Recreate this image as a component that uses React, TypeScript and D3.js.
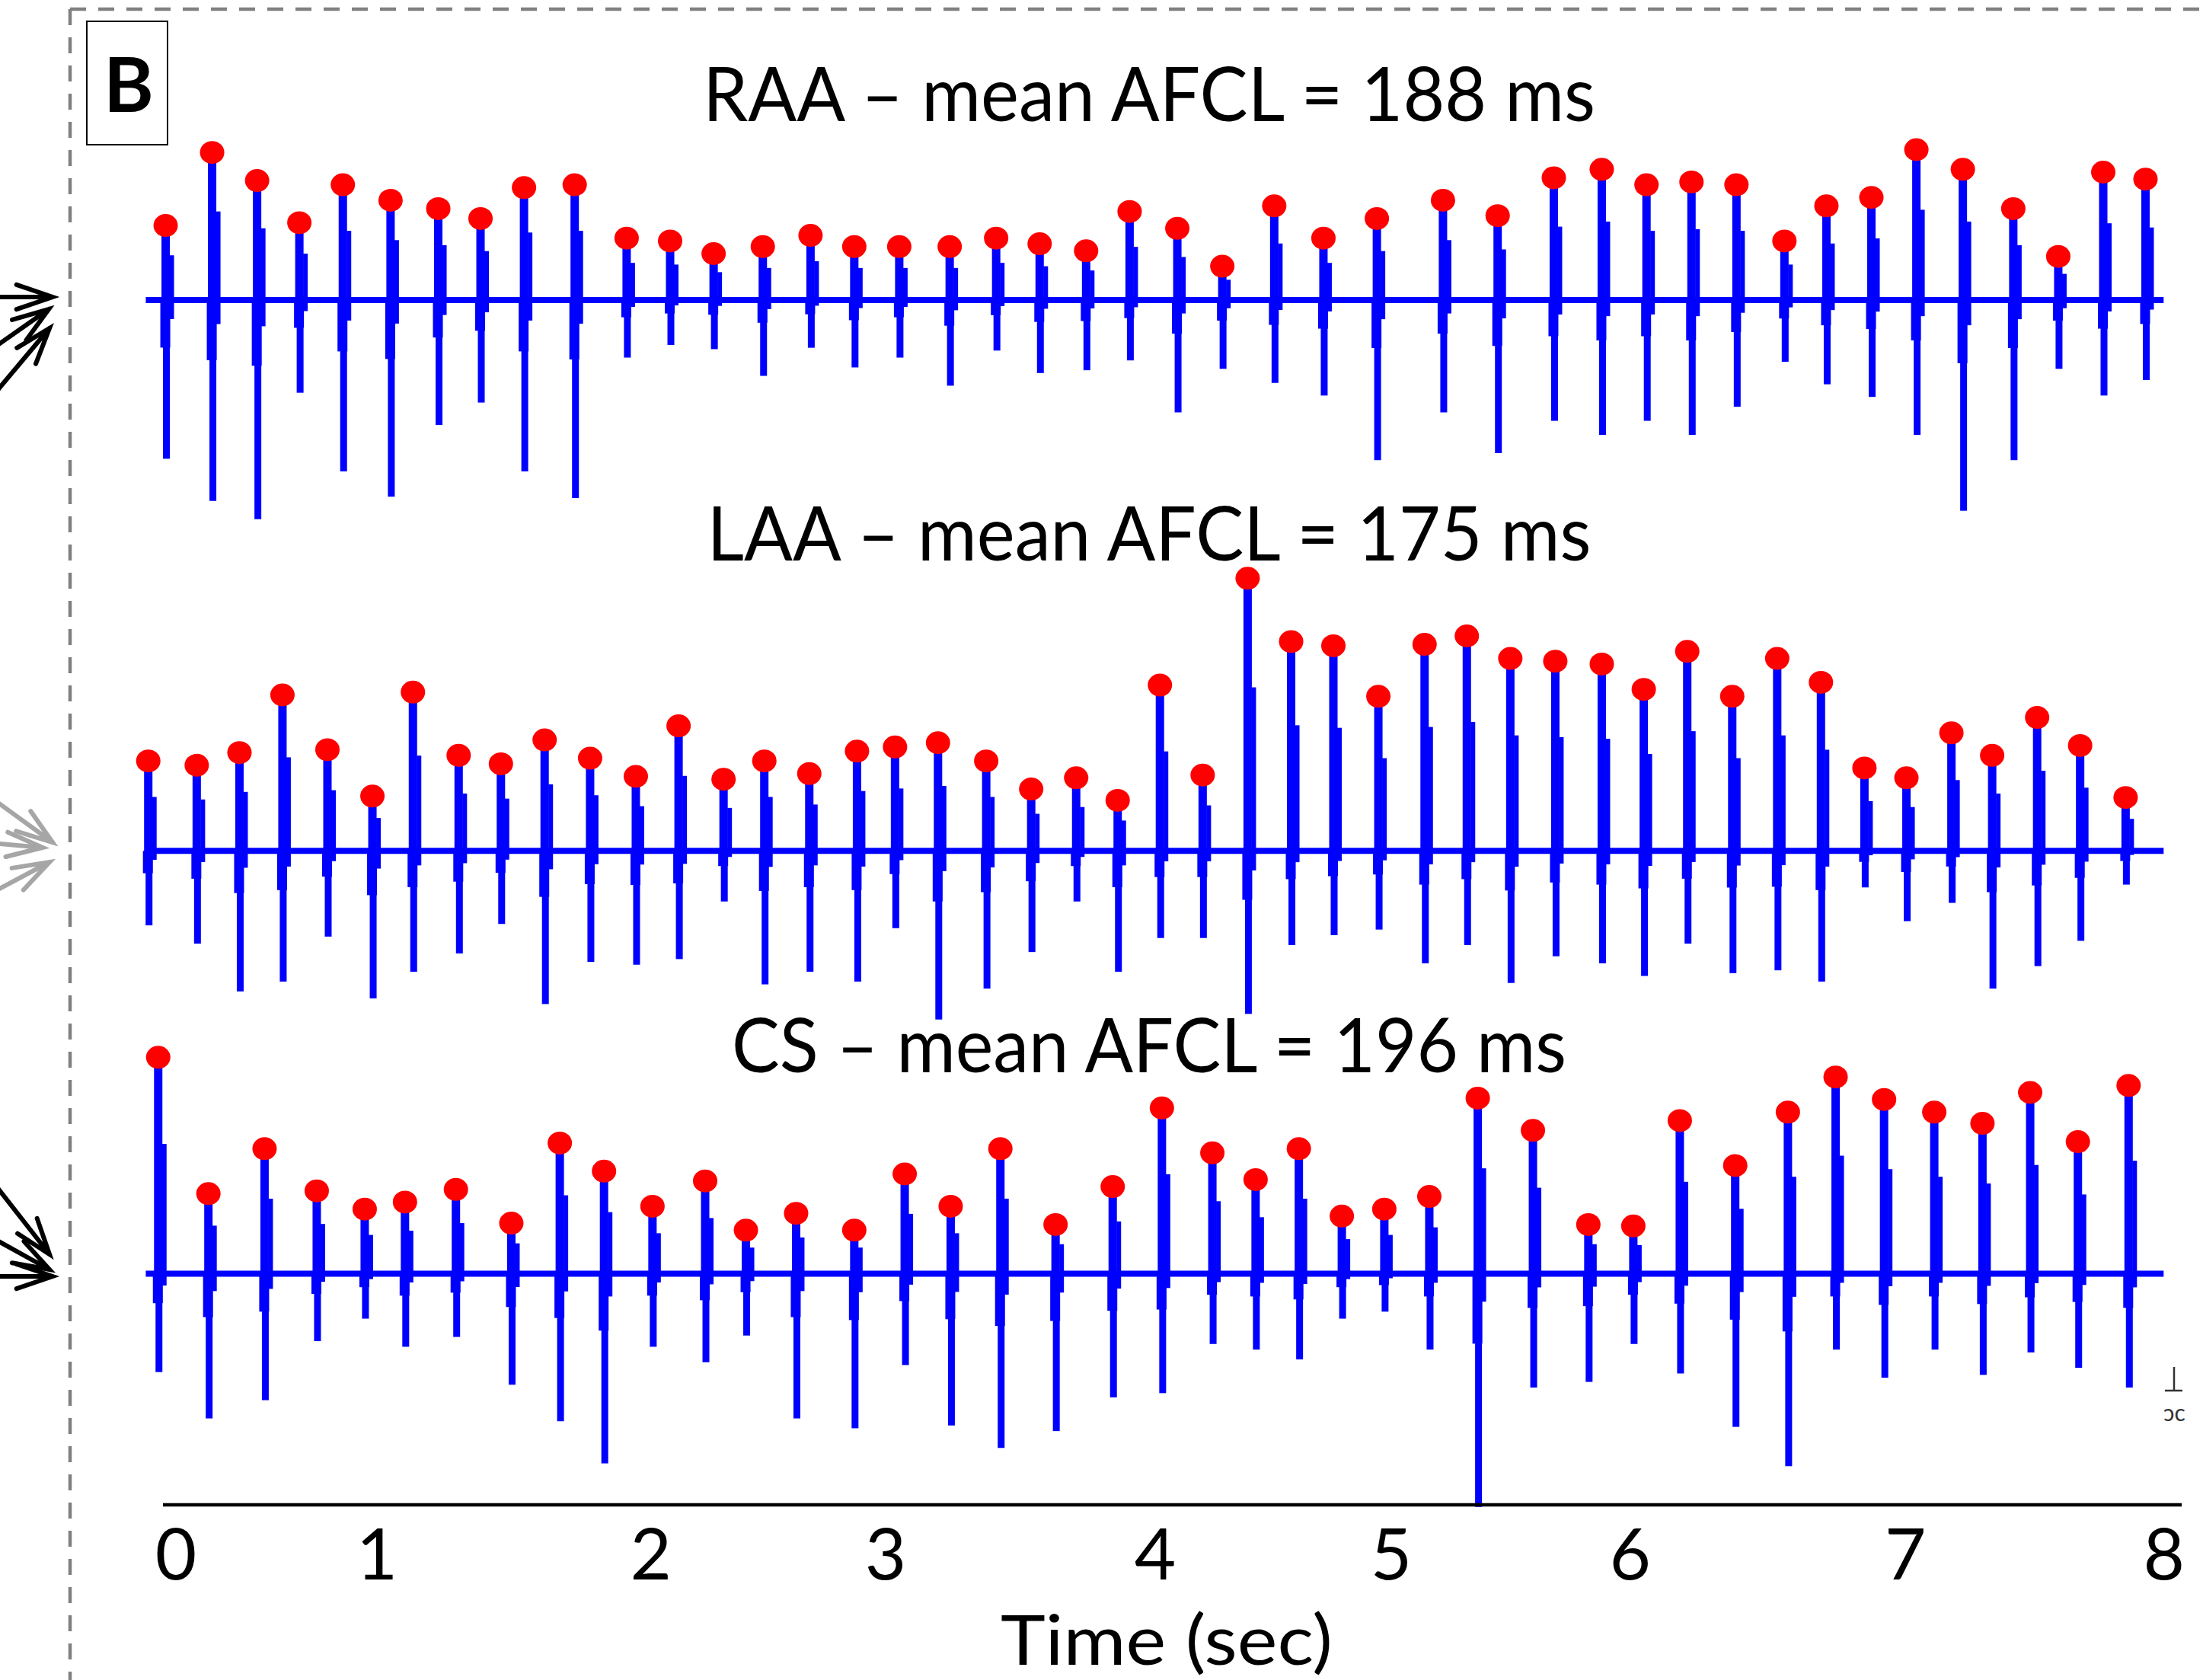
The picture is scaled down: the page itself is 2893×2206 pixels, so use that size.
import * as d3 from "d3";
import React, { useEffect, useRef } from "react";

// beat times (s), peak and trough amplitudes (mV) read from the recordings
const raaTimes = [-0.040, 0.147, 0.328, 0.498, 0.673, 0.865, 1.057, 1.227, 1.402, 1.606, 1.815, 1.990, 2.165, 2.363, 2.555, 2.731, 2.912, 3.115, 3.302, 3.477, 3.664, 3.839, 4.031, 4.212, 4.421, 4.619, 4.834, 5.100, 5.320, 5.546, 5.739, 5.919, 6.100, 6.281, 6.474, 6.643, 6.824, 7.005, 7.192, 7.395, 7.576, 7.757, 7.927];
const raaPeaks = [0.53, 1.05, 0.85, 0.55, 0.82, 0.71, 0.65, 0.58, 0.80, 0.82, 0.44, 0.42, 0.33, 0.38, 0.46, 0.38, 0.38, 0.38, 0.44, 0.40, 0.35, 0.63, 0.51, 0.24, 0.67, 0.44, 0.58, 0.71, 0.60, 0.87, 0.93, 0.82, 0.84, 0.82, 0.42, 0.67, 0.73, 1.07, 0.93, 0.65, 0.31, 0.91, 0.86];
const raaTroughs = [-1.13, -1.43, -1.56, -0.66, -1.22, -1.40, -0.89, -0.73, -1.22, -1.41, -0.41, -0.32, -0.35, -0.54, -0.34, -0.48, -0.41, -0.61, -0.36, -0.52, -0.50, -0.43, -0.80, -0.49, -0.59, -0.68, -1.14, -0.80, -1.09, -0.86, -0.96, -0.86, -0.96, -0.76, -0.44, -0.60, -0.69, -0.96, -1.50, -1.14, -0.49, -0.68, -0.57];

const laaTimes = [-0.110, 0.085, 0.257, 0.430, 0.611, 0.792, 0.955, 1.139, 1.309, 1.485, 1.668, 1.852, 2.024, 2.205, 2.369, 2.550, 2.742, 2.895, 3.068, 3.262, 3.443, 3.624, 3.791, 3.961, 4.133, 4.314, 4.489, 4.659, 4.840, 5.026, 5.196, 5.371, 5.552, 5.739, 5.908, 6.083, 6.264, 6.445, 6.621, 6.796, 6.965, 7.146, 7.310, 7.491, 7.664, 7.847];
const laaPeaks = [0.64, 0.61, 0.70, 1.11, 0.72, 0.39, 1.13, 0.68, 0.62, 0.79, 0.66, 0.53, 0.89, 0.51, 0.64, 0.55, 0.71, 0.74, 0.77, 0.64, 0.44, 0.52, 0.36, 1.18, 0.54, 1.94, 1.49, 1.46, 1.10, 1.47, 1.53, 1.37, 1.35, 1.33, 1.15, 1.42, 1.10, 1.37, 1.20, 0.59, 0.52, 0.84, 0.68, 0.95, 0.75, 0.38];
const laaTroughs = [-0.53, -0.66, -1.00, -0.93, -0.61, -1.05, -0.86, -0.73, -0.52, -1.09, -0.79, -0.81, -0.77, -0.36, -0.95, -0.86, -0.93, -0.55, -1.20, -0.98, -0.72, -0.36, -0.86, -0.62, -0.62, -1.16, -0.67, -0.60, -0.56, -0.80, -0.67, -0.94, -0.75, -0.80, -0.89, -0.66, -0.87, -0.85, -0.93, -0.26, -0.50, -0.37, -0.98, -0.82, -0.64, -0.24];

const csTimes = [-0.070, 0.132, 0.358, 0.568, 0.761, 0.923, 1.128, 1.351, 1.546, 1.724, 1.919, 2.131, 2.295, 2.497, 2.731, 2.934, 3.119, 3.319, 3.541, 3.771, 3.969, 4.172, 4.346, 4.520, 4.693, 4.864, 5.045, 5.240, 5.462, 5.685, 5.866, 6.053, 6.276, 6.488, 6.680, 6.875, 7.077, 7.271, 7.463, 7.655, 7.859];
const csPeaks = [1.54, 0.57, 0.89, 0.59, 0.46, 0.51, 0.60, 0.36, 0.93, 0.73, 0.48, 0.66, 0.31, 0.43, 0.31, 0.71, 0.48, 0.89, 0.35, 0.62, 1.18, 0.86, 0.67, 0.89, 0.41, 0.46, 0.55, 1.25, 1.02, 0.35, 0.34, 1.09, 0.77, 1.15, 1.40, 1.24, 1.15, 1.07, 1.29, 0.94, 1.34];
const csTroughs = [-0.70, -1.03, -0.90, -0.48, -0.32, -0.52, -0.45, -0.79, -1.05, -1.35, -0.52, -0.63, -0.44, -1.03, -1.10, -0.65, -1.08, -1.24, -1.12, -0.88, -0.85, -0.50, -0.54, -0.61, -0.32, -0.27, -0.54, -1.66, -0.81, -0.77, -0.50, -0.71, -1.09, -1.37, -0.54, -0.74, -0.54, -0.72, -0.56, -0.67, -0.81];

const titles = ["RAA \u2013 mean AFCL = 188 ms", "LAA \u2013 mean AFCL = 175 ms", "CS \u2013 mean AFCL = 196 ms"];
const tickLabels = ["0", "1", "2", "3", "4", "5", "6", "7", "8"];

const W = 2893;
const H = 2206;
const BLUE = "#0000ff";
const RED = "#ff0000";
const FONT = "Lato, 'Open Sans', sans-serif";

const App = () => {
  const chartRef = useRef<HTMLDivElement>(null);

  useEffect(() => {
    document.body.style.margin = "0";
    if (chartRef.current) {
      drawChart();
    }
    return () => {
      d3.select(chartRef.current).selectAll("*").remove();
    };
  }, []);

  const drawChart = () => {
    const svg = d3
      .select(chartRef.current)
      .append("svg")
      .attr("width", W)
      .attr("height", H)
      .style("display", "block")
      .style("background", "#fff");

    // time scale shared by the three traces
    const x = d3.scaleLinear().domain([0, 8]).range([230.6, 2841.3]);
    const traceStart = -0.12;
    const traceEnd = 8.0;
    const mvPx = 184.5;

    const traces = [
      { title: titles[0], times: raaTimes, peaks: raaPeaks, troughs: raaTroughs, base: 393.9, titleY: 159, titleW: 1172 },
      { title: titles[1], times: laaTimes, peaks: laaPeaks, troughs: laaTroughs, base: 1117.3, titleY: 736, titleW: 1161 },
      { title: titles[2], times: csTimes, peaks: csPeaks, troughs: csTroughs, base: 1672.5, titleY: 1408, titleW: 1096 },
    ];

    // dashed panel border
    svg.append("line")
      .attr("x1", 92).attr("x2", W).attr("y1", 12).attr("y2", 12)
      .attr("stroke", "#808080").attr("stroke-width", 4.5).attr("stroke-dasharray", "21 16");
    svg.append("line")
      .attr("x1", 92).attr("x2", 92).attr("y1", 12).attr("y2", H)
      .attr("stroke", "#808080").attr("stroke-width", 4.5).attr("stroke-dasharray", "21 16");

    // panel letter
    svg.append("rect")
      .attr("x", 114).attr("y", 28).attr("width", 106).attr("height", 162)
      .attr("fill", "none").attr("stroke", "#000").attr("stroke-width", 2);
    svg.append("text")
      .attr("x", 169).attr("y", 147).attr("text-anchor", "middle")
      .attr("font-family", FONT).attr("font-weight", 700).attr("font-size", 100)
      .text("B");

    // arrows pointing at each trace from the left panel
    const arrows = [
      { tx: 69, ty: 390, a: 0, c: "#000" },
      { tx: 64, ty: 406, a: -35, c: "#000" },
      { tx: 65, ty: 431, a: -50, c: "#000" },
      { tx: 69, ty: 1106, a: 36, c: "#a6a6a6" },
      { tx: 56, ty: 1113, a: 5, c: "#a6a6a6" },
      { tx: 65, ty: 1132, a: -28, c: "#a6a6a6" },
      { tx: 65, ty: 1647, a: 52, c: "#000" },
      { tx: 65, ty: 1667, a: 29, c: "#000" },
      { tx: 69, ty: 1676, a: 0, c: "#000" },
    ];
    const ag = svg.append("g").attr("fill", "none").attr("stroke-width", 6).attr("stroke-linecap", "round");
    arrows.forEach((ar) => {
      const r = (ar.a * Math.PI) / 180;
      const back = (ang: number, len: number) => [ar.tx - len * Math.cos(r + ang), ar.ty - len * Math.sin(r + ang)];
      const tail = back(0, 160);
      const b1 = back(0.33, 50);
      const b2 = back(-0.33, 50);
      ag.append("path")
        .attr("stroke", ar.c)
        .attr("d", `M${tail[0]},${tail[1]}L${ar.tx},${ar.ty}M${b1[0]},${b1[1]}L${ar.tx},${ar.ty}L${b2[0]},${b2[1]}`);
    });

    traces.forEach((tr) => {
      const y = d3.scaleLinear().domain([-1, 1]).range([tr.base + mvPx, tr.base - mvPx]);
      const g = svg.append("g");

      g.append("line")
        .attr("x1", x(traceStart)).attr("x2", x(traceEnd))
        .attr("y1", y(0)).attr("y2", y(0))
        .attr("stroke", BLUE).attr("stroke-width", 8);

      const beats = d3.zip(tr.times, tr.peaks, tr.troughs);
      const bg = g.selectAll(".beat").data(beats).enter().append("g").attr("fill", BLUE);

      // positive deflection
      bg.append("rect")
        .attr("x", (d) => x(d[0]) - 5.5).attr("width", 11)
        .attr("y", (d) => y(d[1])).attr("height", (d) => y(0) - y(d[1]) + 2);
      // negative deflection
      bg.append("rect")
        .attr("x", (d) => x(d[0]) - 3.5).attr("width", 9)
        .attr("y", y(0)).attr("height", (d) => y(d[2]) - y(0));
      // shoulders of the complex
      bg.append("rect")
        .attr("x", (d) => x(d[0]) + 5).attr("width", 6)
        .attr("y", (d) => y(d[1] * 0.6)).attr("height", (d) => y(d[2] * 0.12) - y(d[1] * 0.6));
      bg.append("rect")
        .attr("x", (d) => x(d[0]) - 7).attr("width", 13)
        .attr("y", y(0)).attr("height", (d) => y(d[2] * 0.3) - y(0));

      // detected activation peaks
      g.selectAll(".peak").data(beats).enter().append("ellipse")
        .attr("cx", (d) => x(d[0])).attr("cy", (d) => y(d[1]))
        .attr("rx", 16).attr("ry", 15).attr("fill", RED);

      svg.append("text")
        .attr("x", 1509).attr("y", tr.titleY).attr("text-anchor", "middle")
        .attr("font-family", FONT).attr("font-size", 98)
        .attr("textLength", tr.titleW).attr("lengthAdjust", "spacingAndGlyphs")
        .text(tr.title);
    });

    // time axis (labels sit where the original placed them)
    const labelX = d3.scaleLinear()
      .domain(d3.range(9))
      .range([230.6, 494.5, 854.2, 1162.4, 1516.6, 1826.6, 2140.2, 2501.8, 2841.3]);
    svg.append("line")
      .attr("x1", 214).attr("x2", 2865).attr("y1", 1976).attr("y2", 1976)
      .attr("stroke", "#000").attr("stroke-width", 4.5);
    const axisG = svg.append("g")
      .attr("transform", "translate(0,1976)")
      .call(d3.axisBottom(labelX).tickValues(d3.range(9)).tickFormat((d) => tickLabels[+d]).tickSize(0).tickPadding(31));
    axisG.select(".domain").remove();
    axisG.selectAll("text").attr("font-family", FONT).attr("font-size", 94).attr("fill", "#000");

    svg.append("text")
      .attr("x", 1532).attr("y", 2186).attr("text-anchor", "middle")
      .attr("font-family", FONT).attr("font-size", 92)
      .attr("textLength", 436).attr("lengthAdjust", "spacingAndGlyphs")
      .text("Time (sec)");

    // clipped scale-bar fragment at the right edge
    svg.append("path")
      .attr("d", "M2855,1795V1826M2843,1826H2866")
      .attr("stroke", "#333").attr("stroke-width", 2.5).attr("fill", "none");
    svg.append("text")
      .attr("x", 2841).attr("y", 1866)
      .attr("font-family", FONT).attr("font-size", 30).attr("fill", "#333")
      .text("\u0254c");
  };

  return <div ref={chartRef} />;
};

export default App;
